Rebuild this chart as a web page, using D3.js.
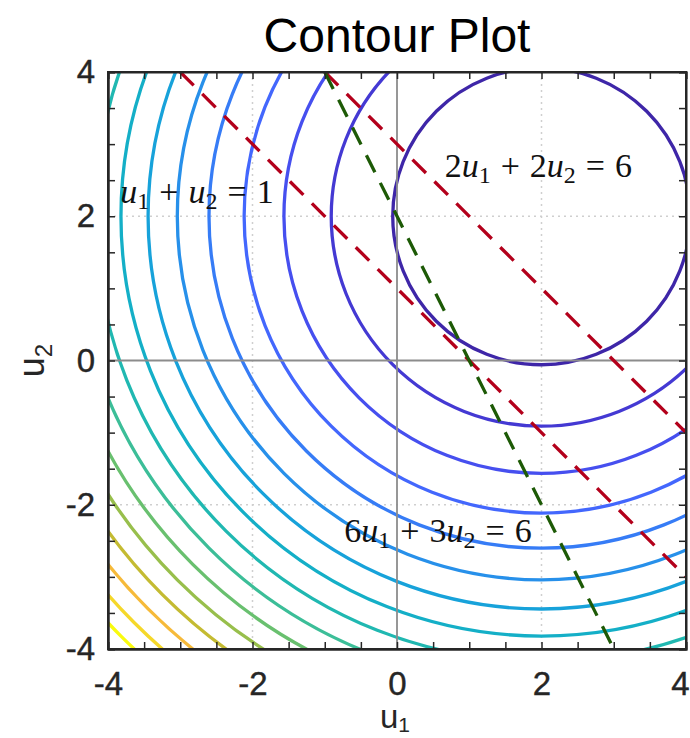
<!DOCTYPE html>
<html>
<head>
<meta charset="utf-8">
<script src="https://cdn.jsdelivr.net/npm/d3@7"></script>
<style>
  body { margin: 0; background: #fff; }
  svg { display: block; }
</style>
</head>
<body>
<div id="chart"></div>
<script>
// contour levels of f = (u1-2)^2 + (u2-2)^2
const center = [2, 2];
const levels = [4.24, 8.47, 12.71, 16.94, 21.18, 25.41, 29.65, 33.88,
                38.12, 42.35, 46.59, 50.82, 55.06, 59.29, 63.53, 67.76];

// constraint lines a*u1 + b*u2 = c
const lineA = [1, 2, 6];
const lineB = [1, 2, 3];
const lineC = [1, 6, 6];
const lineColors = ['#b3001b', '#b3001b', '#1d5a06'];

// labels of the lines: tokens [text, kind] (i = italic, s = subscript, o = operator, n = normal)
const labelTokens = [
  [['u', 'i'], ['1', 's'], ['+', 'o'], ['u', 'i'], ['2', 's'], ['=', 'o'], ['1', 'n']],
  [['2', 'n'], ['u', 'i'], ['1', 's'], ['+', 'o'], ['2', 'n'], ['u', 'i'], ['2', 's'], ['=', 'o'], ['6', 'n']],
  [['6', 'n'], ['u', 'i'], ['1', 's'], ['+', 'o'], ['3', 'n'], ['u', 'i'], ['2', 's'], ['=', 'o'], ['6', 'n']]
];
const labelU1 = [-3.83, 0.66, -0.73];
const labelU2 = [2.18, 2.54, -2.52];

const majorTicks = [-4, -2, 0, 2, 4];
const minorTicks = d3.range(-4, 4.001, 0.5);
const gridTicks = [-2, 2];

// parula-like colormap (fraction -> colour)
const parulaAt = [0, 0.1, 0.2, 0.3, 0.4, 0.5, 0.6, 0.667, 0.733, 0.8, 0.867, 0.933, 1];
const parula = ['#3e26a8', '#4743e8', '#4367fd', '#2f87f2', '#17a2da', '#12b5bd', '#3cbe98',
                '#69c06f', '#98bf4c', '#c4bb32', '#f6ba3a', '#f5d82a', '#f9fb0e'];

const W = 690, H = 738;
const mLeft = 108, mRight = 686, mTop = 72, mBottom = 649;

const svg = d3.select('#chart').append('svg')
    .attr('width', W)
    .attr('height', H);

const x = d3.scaleLinear().domain([-4, 4]).range([mLeft, mRight]);
const y = d3.scaleLinear().domain([-4, 4]).range([mBottom, mTop]);
const lo = d3.min(levels), hi = d3.max(levels);
const color = d3.scaleLinear()
    .domain(parulaAt.map(f => lo + f * (hi - lo)))
    .range(parula)
    .interpolate(d3.interpolateRgb);

svg.append('defs').append('clipPath').attr('id', 'clip')
  .append('rect')
    .attr('x', mLeft).attr('y', mTop)
    .attr('width', mRight - mLeft).attr('height', mBottom - mTop);

// grid
const grid = svg.append('g')
    .attr('stroke', '#cfcfcf')
    .attr('stroke-width', 1.5)
    .attr('stroke-dasharray', '2,4');
grid.selectAll('.gx').data(gridTicks).join('line')
    .attr('class', 'gx')
    .attr('x1', d => x(d)).attr('x2', d => x(d))
    .attr('y1', mTop).attr('y2', mBottom);
grid.selectAll('.gy').data(gridTicks).join('line')
    .attr('class', 'gy')
    .attr('y1', d => y(d)).attr('y2', d => y(d))
    .attr('x1', mLeft).attr('x2', mRight);

const plot = svg.append('g').attr('clip-path', 'url(#clip)');

// contours
plot.selectAll('ellipse').data(levels).join('ellipse')
    .attr('cx', x(center[0]))
    .attr('cy', y(center[1]))
    .attr('rx', d => x(center[0] + Math.sqrt(d)) - x(center[0]))
    .attr('ry', d => y(center[1]) - y(center[1] + Math.sqrt(d)))
    .attr('fill', 'none')
    .attr('stroke', d => color(d))
    .attr('stroke-width', 3.3);

// zero lines
plot.append('line')
    .attr('x1', x(0)).attr('x2', x(0)).attr('y1', mTop).attr('y2', mBottom)
    .attr('stroke', '#8c8c8c').attr('stroke-width', 1.8);
plot.append('line')
    .attr('y1', y(0)).attr('y2', y(0)).attr('x1', mLeft).attr('x2', mRight)
    .attr('stroke', '#8c8c8c').attr('stroke-width', 1.8);

// constraint lines, from the top edge (u2 = 4) to the right or bottom edge
function ends(i) {
  const a = lineA[i], b = lineB[i], c = lineC[i];
  const p = [[(c - b * 4) / a, 4]];
  const u2Right = (c - a * 4) / b;
  if (u2Right >= -4) p.push([4, u2Right]);
  else p.push([(c + b * 4) / a, -4]);
  return p;
}
plot.selectAll('.cline').data(d3.range(lineA.length)).join('path')
    .attr('class', 'cline')
    .attr('d', i => d3.line().x(d => x(d[0])).y(d => y(d[1]))(ends(i)))
    .attr('fill', 'none')
    .attr('stroke', i => lineColors[i])
    .attr('stroke-width', 3.3)
    .attr('stroke-dasharray', '19,12');

// axes
const tickLen = 7;
function minor(axis) { return axis.tickValues(minorTicks).tickSize(-tickLen).tickFormat(''); }
svg.append('g').attr('transform', `translate(0,${mBottom})`).call(minor(d3.axisBottom(x)));
svg.append('g').attr('transform', `translate(0,${mTop})`).call(minor(d3.axisTop(x)));
svg.append('g').attr('transform', `translate(${mLeft},0)`).call(minor(d3.axisLeft(y)));
svg.append('g').attr('transform', `translate(${mRight},0)`).call(minor(d3.axisRight(y)));

svg.append('g').attr('class', 'xlab')
    .attr('transform', `translate(0,${mBottom})`)
    .call(d3.axisBottom(x).tickValues(majorTicks).tickSize(0).tickPadding(23));
svg.append('g').attr('class', 'ylab')
    .attr('transform', `translate(${mLeft},0)`)
    .call(d3.axisLeft(y).tickValues(majorTicks).tickSize(0).tickPadding(13));

svg.selectAll('.xlab text, .ylab text')
    .attr('font-family', 'Liberation Sans, Arial, sans-serif')
    .attr('font-size', 33)
    .attr('fill', '#262626')
    .attr('stroke', '#262626')
    .attr('stroke-width', 0.4)
    .text(d => d < 0 ? '-' + Math.abs(d) : d);
// keep the last x label inside the page
svg.selectAll('.xlab .tick').filter(d => d === 4).select('text')
    .attr('text-anchor', 'end').attr('dx', 3);
svg.selectAll('.tick line').attr('stroke', '#262626').attr('stroke-width', 1.5);
svg.selectAll('.domain').attr('stroke', '#262626').attr('stroke-width', 2);

// box
svg.append('rect')
    .attr('x', mLeft).attr('y', mTop)
    .attr('width', mRight - mLeft).attr('height', mBottom - mTop)
    .attr('fill', 'none').attr('stroke', '#262626').attr('stroke-width', 2);

// line labels
const gap = 10;
labelTokens.forEach((tokens, i) => {
  const t = svg.append('text')
      .attr('x', x(labelU1[i])).attr('y', y(labelU2[i]))
      .attr('font-family', 'Liberation Serif, Times New Roman, serif')
      .attr('font-size', 34)
      .attr('fill', '#111');
  let shift = 0, pad = 0;
  tokens.forEach(([s, kind]) => {
    const ts = t.append('tspan').text(s);
    let target = 0, dx = pad;
    if (kind === 'i') ts.attr('font-style', 'italic');
    if (kind === 's') { ts.attr('font-size', 24); target = 6; }
    if (kind === 'o') dx += gap;
    ts.attr('dy', target - shift).attr('dx', dx);
    shift = target;
    pad = kind === 'o' ? gap : 0;
  });
});

// title
svg.append('text')
    .attr('x', (mLeft + mRight) / 2).attr('y', 52)
    .attr('text-anchor', 'middle')
    .attr('font-family', 'Liberation Sans, Arial, sans-serif')
    .attr('font-size', 48)
    .attr('fill', '#000')
    .text('Contour Plot');

// axis labels
const xl = svg.append('text')
    .attr('x', (mLeft + mRight) / 2 - 2).attr('y', 728)
    .attr('text-anchor', 'middle')
    .attr('font-family', 'Liberation Sans, Arial, sans-serif')
    .attr('font-size', 33)
    .attr('fill', '#262626');
xl.append('tspan').text('u');
xl.append('tspan').text('1').attr('font-size', 21).attr('dy', 4);

const yl = svg.append('text')
    .attr('transform', `translate(44,${(mTop + mBottom) / 2}) rotate(-90)`)
    .attr('text-anchor', 'middle')
    .attr('font-family', 'Liberation Sans, Arial, sans-serif')
    .attr('font-size', 36)
    .attr('fill', '#262626');
yl.append('tspan').text('u');
yl.append('tspan').text('2').attr('font-size', 24).attr('dy', 8);
</script>
</body>
</html>
